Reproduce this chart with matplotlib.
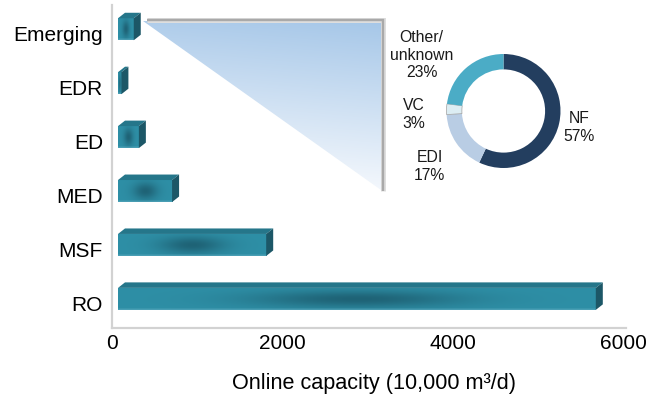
import numpy as np
import matplotlib
matplotlib.use("Agg")
import matplotlib.pyplot as plt
from matplotlib.patches import Polygon
from matplotlib.transforms import ScaledTranslation, blended_transform_factory

plt.rcParams['font.family'] = ['Liberation Sans', 'DejaVu Sans']

# online capacity by technology (10,000 m3/d), top to bottom
techs = ["Emerging", "EDR", "ED", "MED", "MSF", "RO"]
capacity = [185, 40, 245, 635, 1740, 5610]
x_ticks = [0, 2000, 4000, 6000]

# membrane share of the emerging group (%)
pie_labels = ["NF\n57%", "EDI\n17%", "VC\n3%", "Other/\nunknown\n23%"]
pie_share = [57, 17, 3, 23]
pie_colors = ["#233e5f", "#b9cde4", "#dcedf3", "#4bacc6"]

W, H, DPI = 649, 395, 100
fig = plt.figure(figsize=(W / DPI, H / DPI), dpi=DPI)

# main bar axes, placed in pixels
ax = fig.add_axes([112 / W, 1 - 328 / H, (626 - 112) / W, (328 - 5) / H])
XMAX = 6035
YLIM = (-0.54, 5.45)
ax.set_xlim(0, XMAX)
ax.set_ylim(*YLIM)

px_x = ax.get_position().width * W / XMAX
px_y = ax.get_position().height * H / (YLIM[1] - YLIM[0])

bar_h = 22 / px_y          # front face height
dxd = 7 / px_x             # 3d depth to the right
dyd = 5.5 / px_y           # 3d depth upward
shift = ax.transData + ScaledTranslation(6 / DPI, 0, fig.dpi_scale_trans)

edge_c = np.array([0.18, 0.56, 0.65])
dark_c = np.array([0.10, 0.33, 0.40])
top_c = "#25768a"
side_c = "#1c5767"

u = np.linspace(0, 1, 300)[None, :]
w = np.linspace(0, 1, 30)[:, None]
shade = 0.75 * np.exp(-((u - 0.5) / 0.22) ** 2 - ((w - 0.5) / 0.4) ** 2)
face = edge_c[None, None, :] * (1 - shade[..., None]) + dark_c[None, None, :] * shade[..., None]
face[:2] = face[:2] * 0.6 + 0.4 * np.array([0.45, 0.72, 0.80])

n = len(techs)
ypos = [n - 1 - i for i in range(n)]
for y, v in zip(ypos, capacity):
    y0, y1 = y - bar_h / 2, y + bar_h / 2
    ax.imshow(face, extent=(0, v, y0, y1), origin="lower", aspect="auto",
              transform=shift, interpolation="bilinear", zorder=3)
    ax.add_patch(Polygon([(0, y1), (dxd, y1 + dyd), (v + dxd, y1 + dyd), (v, y1)],
                         closed=True, fc=top_c, ec="none", transform=shift, zorder=3))
    ax.add_patch(Polygon([(v, y0), (v + dxd, y0 + dyd), (v + dxd, y1 + dyd), (v, y1)],
                         closed=True, fc=side_c, ec="none", transform=shift, zorder=3))

ax.set_xlim(0, XMAX)
ax.set_ylim(*YLIM)

for s in ["top", "right"]:
    ax.spines[s].set_visible(False)
for s in ["left", "bottom"]:
    ax.spines[s].set_color("#d2d2d2")
    ax.spines[s].set_linewidth(1.6)

ax.set_xticks(x_ticks)
ax.set_xticklabels([str(t) for t in x_ticks])
ax.tick_params(axis="x", length=0, pad=4.5, labelsize=15)
ax.set_yticks([])

lab_tr = blended_transform_factory(ax.transAxes, ax.transData) + \
    ScaledTranslation(-9 / DPI, -12 / DPI, fig.dpi_scale_trans)
for y, name in zip(ypos, techs):
    ax.text(0, y, name, transform=lab_tr, ha="right", va="baseline", fontsize=15)

fig.text(373.5 / W, 1 - 389 / H, "Online capacity (10,000 m³/d)",
         ha="center", va="baseline", fontsize=15.6)

# overlay in pixel coordinates for the callout
ov = fig.add_axes([0, 0, 1, 1], zorder=1)
ov.set_xlim(0, W)
ov.set_ylim(H, 0)
ov.axis("off")
ov.patch.set_visible(False)

tri = Polygon([(143, 21), (381, 21), (381, 190)], closed=True, fc="none", ec="none")
ov.add_patch(tri)
t = np.linspace(0, 1, 200)[:, None]
sx = np.linspace(0, 1, 200)[None, :]
top_blue = np.array([0.65, 0.78, 0.91])
pale = np.array([0.97, 0.98, 0.995])
mix = np.clip(t * 0.95 + (1 - sx) * 0.12, 0, 1)
grad = top_blue[None, None, :] * (1 - mix[..., None]) + pale[None, None, :] * mix[..., None]
im = ov.imshow(grad, extent=(143, 381, 190, 21), origin="upper", aspect="auto",
               interpolation="bilinear")
im.set_clip_path(tri)
ov.set_xlim(0, W)
ov.set_ylim(H, 0)

for lw, col in [(5.0, "#dedede"), (2.4, "#a9a9a9")]:
    ov.plot([147, 383, 383], [20, 20, 191], color=col, lw=lw * 0.72,
            solid_joinstyle="miter", solid_capstyle="butt")

# donut of the emerging technologies
cx, cy, R, half = 503.5, 111, 57, 62
axp = fig.add_axes([(cx - half) / W, 1 - (cy + half) / H, 2 * half / W, 2 * half / H], zorder=2)
wedges, _ = axp.pie(pie_share, colors=pie_colors, startangle=90, counterclock=False,
                    radius=1, wedgeprops=dict(width=0.27, edgecolor="none"))
wedges[2].set_edgecolor("#a0a0a0")
wedges[2].set_linewidth(0.5)
axp.set_xlim(-half / R, half / R)
axp.set_ylim(-half / R, half / R)
axp.set_aspect("equal")
axp.axis("off")

label_xy = [(579, 127.5), (429.5, 166.5), (414, 114.5), (421.5, 55)]
for (lx, ly), txt in zip(label_xy, pie_labels):
    ov.text(lx, ly, txt, ha="center", va="center", fontsize=11.3, color="#1a1a1a",
            multialignment="center", linespacing=1.2)

fig.savefig("out.png", dpi=DPI)
